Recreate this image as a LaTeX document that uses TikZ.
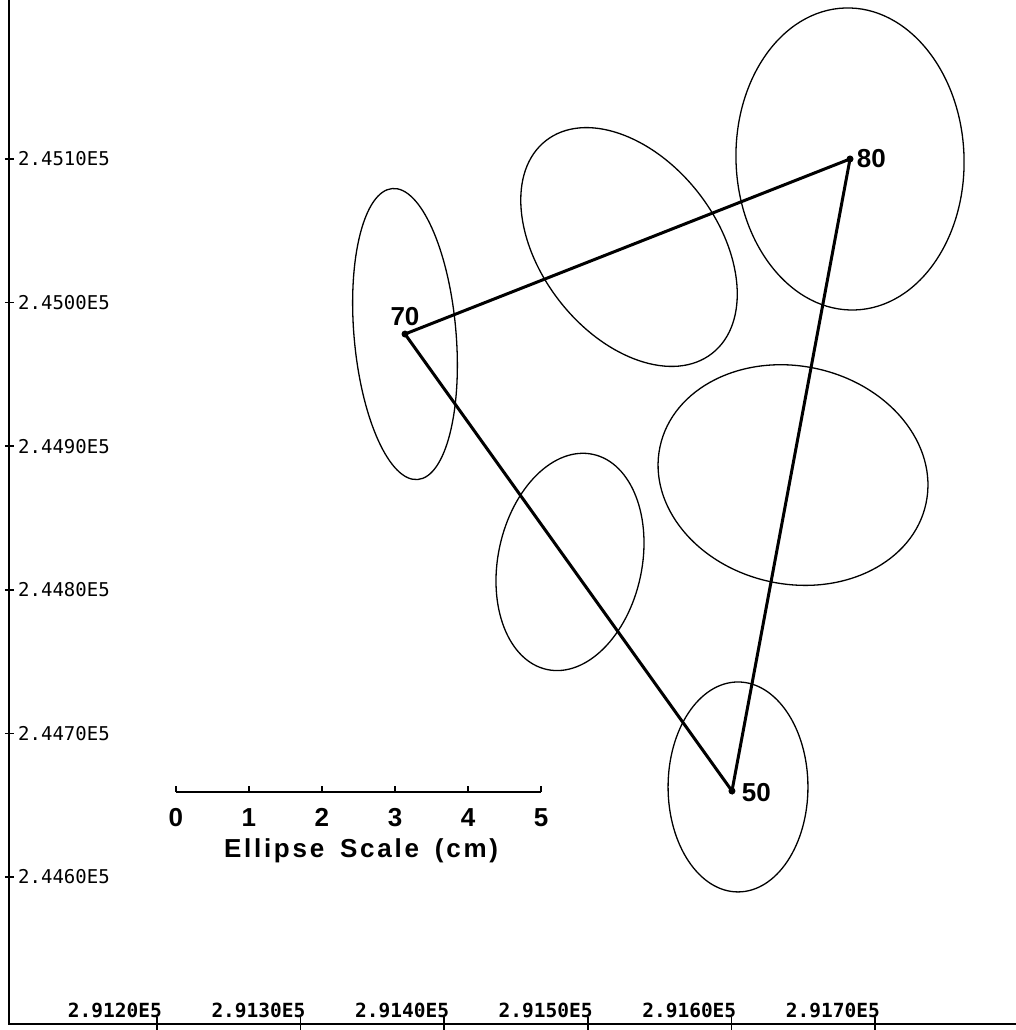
\documentclass[tikz,border=0pt]{standalone}
\usepackage{fontspec}
\setmainfont{Liberation Sans}
\newfontfamily\plotmono{DejaVu Sans Mono}
\newfontfamily\spacedsans[LetterSpace=10.5]{Liberation Sans}
\usetikzlibrary{positioning}
\newcommand\PlotUnit{143.6pt}
\tikzset{
  axisline/.style={
    line width=1.6pt
  },
  errell/.style={
    line width=1.3pt
  },
  leg/.style={
    line width=3pt,
    line cap=round
  },
  stn/.style={
    shape=circle,
    fill,
    inner sep=0pt,
    minimum size=7pt
  },
  stnlabel/.style={
    font=\bfseries\fontsize{26}{26}\selectfont,
    inner sep=1pt
  },
  ylab/.style={
    font=\plotmono\fontsize{19}{19}\selectfont,
    anchor=west,
    inner sep=0pt
  },
  xlab/.style={
    font=\plotmono\bfseries\fontsize{19.5}{19.5}\selectfont,
    anchor=base east,
    inner sep=0pt
  },
  scalenum/.style={
    font=\bfseries\fontsize{26}{26}\selectfont,
    inner sep=1pt
  },
  scaletitle/.style={
    font=\spacedsans\bfseries\fontsize{26}{26}\selectfont,
    inner sep=0pt
  }
}

\begin{document}
\begin{tikzpicture}[x=\PlotUnit,y=\PlotUnit]
    \useasboundingbox (-1.0933,-1.0655) rectangle (5.9819,6.1072);

    % axes
    \coordinate (top) at (-1.031,6.107);
    \coordinate (corner) at (-1.031,-1.024);
    \coordinate (right) at (5.982,-1.024);
    \draw[axisline] (top) -- (corner) -- (right);

    \foreach \k/\txt in {0/2.4460E5,1/2.4470E5,2/2.4480E5,3/2.4490E5,4/2.4500E5,5/2.4510E5}{
        \draw[axisline] (-1.059,\k) -- (-0.996,\k);
        \node[ylab] (ny\k) at (-0.968,\k) {\txt};
    }
    \foreach \k/\txt in {0/2.9120E5,1/2.9130E5,2/2.9140E5,3/2.9150E5,4/2.9160E5,5/2.9170E5}{
        \draw[axisline] (\k,-0.975) -- (\k,-1.065);
        \node[xlab] (nx\k) at (\k+0.035,-0.975) {\txt};
    }

    % stations
    \node[stn] (p70) at (1.727,3.781) {};
    \node[stn] (p80) at (4.826,5.000) {};
    \node[stn] (p50) at (4.004,0.599) {};

    % error ellipses
    \draw[errell, shift={(p70)}, rotate=95] (0,0) ellipse [x radius=1.017, y radius=0.355];
    \draw[errell, shift={(3.287,4.387)}, rotate=-52] (0,0) ellipse [x radius=0.940, y radius=0.613];
    \draw[errell, shift={(p80)}, rotate=92] (0,0) ellipse [x radius=1.052, y radius=0.794];
    \draw[errell, shift={(4.429,2.799)}, rotate=-12] (0,0) ellipse [x radius=0.947, y radius=0.759];
    \draw[errell, shift={(2.876,2.194)}, rotate=78] (0,0) ellipse [x radius=0.766, y radius=0.501];
    \draw[errell, shift={(4.046,0.627)}, rotate=90] (0,0) ellipse [x radius=0.731, y radius=0.487];

    % triangle
    \draw[leg] (p70.center) -- (p80.center) -- (p50.center) -- cycle;

    \node[stnlabel, above=3pt of p70] (l70) {70};
    \node[stnlabel, right=2pt of p80] (l80) {80};
    \node[stnlabel, right=5pt of p50, yshift=-2pt] (l50) {50};

    % ellipse scale
    \coordinate (sb0) at (0.132,0.592);
    \coordinate (sb5) at (2.674,0.592);
    \draw[axisline] (sb0) -- (sb5);
    \foreach \i in {0,...,5}{
        \coordinate (sbt\i) at (0.132+\i*0.5084,0.592);
        \draw[axisline] (sbt\i) --++ (0,0.045);
        \node[scalenum, below=15pt of sbt\i] (sbn\i) {\i};
    }
    \node[scaletitle, anchor=base] (sbtitle) at (1.421,0.139) {Ellipse\hspace{6pt} Scale\hspace{6pt} (cm)};

\end{tikzpicture}
\end{document}
